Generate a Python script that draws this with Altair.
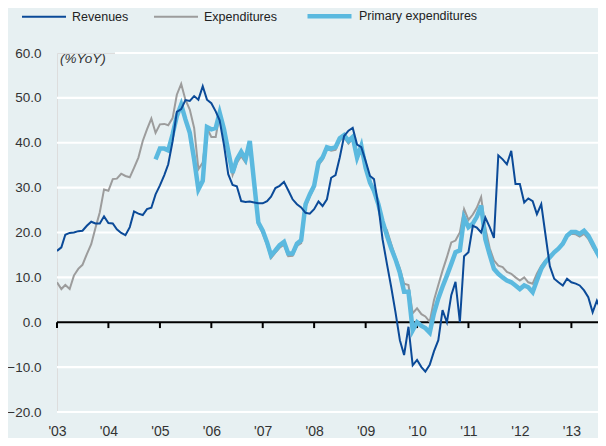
import altair as alt
import pandas as pd

# ---------------- data (monthly, % YoY) ----------------
first_month = "2003-01-01"
revenues = [
    15.9, 16.7, 19.5, 19.9, 20.0, 20.3, 20.4, 21.5, 22.4, 22.0, 22.0, 23.6,   # 2003
    22.1, 22.0, 20.7, 19.9, 19.4, 21.2, 24.7, 24.2, 23.9, 25.2, 25.5, 28.5,   # 2004
    30.5, 32.8, 35.2, 40.3, 46.9, 47.5, 49.5, 49.3, 50.4, 49.6, 52.6, 49.6,   # 2005
    48.8, 47.0, 45.0, 39.5, 33.0, 30.6, 30.3, 27.0, 26.8, 26.9, 26.7, 26.5,   # 2006
    26.5, 27.0, 28.0, 29.9, 30.4, 31.3, 29.4, 27.4, 26.3, 25.6, 24.4, 24.2,   # 2007
    25.2, 26.9, 25.9, 27.4, 32.2, 32.8, 36.7, 41.5, 42.7, 43.3, 39.6, 39.0,   # 2008
    35.9, 32.6, 31.9, 26.0, 18.5, 13.0, 7.9, 2.2, -4.0, -7.3, -1.0, -9.6,     # 2009
    -8.4, -10.0, -11.0, -9.5, -6.5, -4.0, 2.7, 0.0, 6.0, 9.0, 0.0, 14.7,      # 2010
    15.6, 21.5, 21.1, 20.0, 23.3, 21.2, 18.8, 37.2, 36.3, 35.2, 38.2, 30.8,   # 2011
    30.8, 26.7, 27.6, 27.0, 24.1, 26.3, 19.5, 12.5, 9.7, 8.9, 8.2, 9.7,       # 2012
    8.9, 8.6, 8.2, 7.1, 5.6, 2.2, 4.8, 2.6, 4.5,                              # 2013
]
expenditures = [
    8.9, 7.4, 8.3, 7.4, 10.4, 11.9, 12.8, 15.2, 17.4, 21.0, 24.5, 29.6,       # 2003
    29.3, 31.9, 32.0, 33.1, 32.6, 32.3, 34.4, 36.7, 40.4, 43.0, 45.4, 42.2,   # 2004
    44.1, 44.2, 43.9, 45.5, 50.7, 53.1, 49.6, 47.4, 43.3, 34.1, 35.6, 43.3,   # 2005
    41.3, 41.3, 46.3, 42.5, 37.5, 32.8, 35.5, 37.0, 35.6, 39.6, 30.5, 21.8,   # 2006
    19.8, 17.2, 14.3, 15.5, 16.6, 17.3, 14.7, 14.8, 17.0, 17.6, 25.6, 28.0,   # 2007
    30.0, 35.0, 36.2, 38.6, 38.2, 38.4, 40.5, 41.2, 39.8, 40.9, 36.2, 38.8,   # 2008
    34.0, 30.8, 29.0, 26.2, 22.0, 20.5, 17.5, 14.5, 12.0, 8.6, 8.3, 2.0,      # 2009
    3.1, 1.8, 1.3, 0.1, 4.9, 8.3, 11.5, 14.5, 17.8, 18.2, 20.0, 25.2,         # 2010
    22.8, 24.0, 25.5, 27.9, 21.0, 16.5, 13.8, 12.6, 12.3, 11.2, 10.8, 10.0,   # 2011
    9.3, 10.0, 8.9, 8.6, 10.8, 12.6, 13.8, 14.9, 15.6, 16.4, 17.8, 19.3,      # 2012
    19.7, 19.6, 19.1, 19.7, 18.6, 16.7, 15.2, 13.8, 12.6,                     # 2013
]
primary_first_month = "2004-12-01"
primary = [
    36.3,                                                                     # Dec 2004
    38.7, 38.7, 38.3, 41.9, 45.9, 48.5, 45.2, 42.2, 36.3, 29.6, 31.5, 43.5,   # 2005
    43.0, 43.3, 46.7, 43.0, 38.1, 33.3, 36.3, 38.0, 36.3, 40.4, 31.1, 22.2,   # 2006
    20.4, 17.8, 14.9, 16.0, 17.2, 17.9, 15.3, 15.3, 17.5, 18.3, 26.3, 28.5,   # 2007
    30.4, 35.6, 36.7, 39.0, 38.7, 39.0, 41.0, 41.7, 40.4, 41.3, 36.7, 39.3,   # 2008
    34.4, 31.1, 29.3, 26.3, 22.5, 19.3, 16.5, 14.0, 11.0, 6.8, 6.8, -1.8,     # 2009
    0.0, -0.8, -1.3, -2.3, 2.0, 5.3, 7.9, 10.4, 13.0, 15.6, 16.0, 23.3,       # 2010
    21.2, 22.0, 23.5, 26.0, 18.5, 15.0, 11.9, 10.8, 10.0, 9.3, 8.9, 8.2,      # 2011
    7.4, 8.2, 7.8, 6.7, 9.3, 11.9, 13.4, 14.5, 15.6, 16.4, 17.5, 19.3,        # 2012
    20.1, 20.1, 19.7, 20.4, 19.3, 17.5, 15.6, 13.8, 12.3,                     # 2013
]
series_names = ["Revenues", "Expenditures", "Primary expenditures"]
series_colors = ["#0b4a98", "#9c9c9c", "#5bb9df"]
series_widths = [2.0, 2.0, 4.5]
year_ticks = [f"{y}-01-01" for y in range(2003, 2014)]
grid_values = [-20, -10, 10, 20, 30, 40, 50]
top_grid_value = [60]
zero_value = [0]
unit_label = "(%YoY)"
visible_end = "2013-07-09"   # right edge of the visible plot area

# ---------------- tables ----------------
rev_dates = pd.date_range(first_month, periods=len(revenues), freq="MS")
exp_dates = pd.date_range(first_month, periods=len(expenditures), freq="MS")
pri_dates = pd.date_range(primary_first_month, periods=len(primary), freq="MS")
df = pd.concat([
    pd.DataFrame({"month": rev_dates, "value": revenues, "series": series_names[0]}),
    pd.DataFrame({"month": exp_dates, "value": expenditures, "series": series_names[1]}),
    pd.DataFrame({"month": pri_dates, "value": primary, "series": series_names[2]}),
])
ticks_df = pd.DataFrame({"month": pd.to_datetime(year_ticks)})
grid_df = pd.DataFrame({"v": grid_values})
top_df = pd.DataFrame({"v": top_grid_value})
zero_df = pd.DataFrame({"v": zero_value})

BG = "#e7f0f2"
FONT = "Liberation Sans"
W, H = 541, 359

x_scale = alt.Scale(domain=[first_month + "T00:00:00", visible_end + "T00:00:00"])
y_scale = alt.Scale(domain=[-20, 60], nice=False, zero=False)

x_enc = alt.X(
    "month:T", scale=x_scale, title=None,
    axis=alt.Axis(format="'%y", tickCount={"interval": "year", "step": 1},
                  domain=False, ticks=False, grid=False, labelPadding=12,
                  labelFlush=False, labelFontSize=14, labelColor="#333333",
                  labelFont=FONT),
)
y_axis = alt.Axis(values=[-20, -10, 0, 10, 20, 30, 40, 50, 60], format=".1f",
                  domain=False, ticks=False, grid=False, labelPadding=16,
                  labelFontSize=13.5, labelColor="#333333", labelFont=FONT)

grid = alt.Chart(grid_df).mark_rule(color="white", strokeWidth=2.2).encode(
    y=alt.Y("v:Q", scale=y_scale, axis=y_axis, title=None),
    x=alt.value(0), x2=alt.value(W),
)
top_grid = alt.Chart(top_df).mark_rule(color="white", strokeWidth=2.2).encode(
    y=alt.Y("v:Q", scale=y_scale), x=alt.value(58), x2=alt.value(W),
)
unit = alt.Chart(top_df).mark_text(
    text=unit_label, font=FONT, fontSize=13.5, fontStyle="italic",
    color="#333333", align="left", baseline="middle",
).encode(x=alt.value(3), y=alt.value(6))

color_enc = alt.Color(
    "series:N",
    scale=alt.Scale(domain=series_names, range=series_colors),
    legend=alt.Legend(
        title=None, orient="none", legendX=-36, legendY=-61.5,
        direction="horizontal", symbolType="stroke", symbolSize=1936,
        labelFontSize=12.5, labelFont=FONT, labelColor="#222222",
        labelOffset=5, columnPadding=21, padding=0,
    ),
)
width_enc = alt.StrokeWidth(
    "series:N",
    scale=alt.Scale(type="ordinal", domain=series_names, range=series_widths),
    legend=None,
)

def series_layer(name):
    return alt.Chart(df).transform_filter(alt.datum.series == name).mark_line(
        strokeJoin="miter", strokeCap="butt", clip=True
    ).encode(x=x_enc, y=alt.Y("value:Q", scale=y_scale), color=color_enc,
             strokeWidth=width_enc, order=alt.Order("month:T"))

zero_line = alt.Chart(zero_df).mark_rule(color="black", strokeWidth=2).encode(
    y=alt.Y("v:Q", scale=y_scale), x=alt.value(0), x2=alt.value(W),
)
zero_ticks = alt.Chart(ticks_df).mark_rule(color="black", strokeWidth=2).encode(
    x=alt.X("month:T", scale=x_scale),
    y=alt.datum(0), y2=alt.datum(-1.3),
)

chart = alt.layer(
    grid, top_grid, unit, zero_line, zero_ticks,
    series_layer(series_names[1]),
    series_layer(series_names[2]),
    series_layer(series_names[0]),
).resolve_scale(x="shared", y="shared").properties(
    width=W, height=H,
    padding={"left": 49, "top": 45, "right": 0, "bottom": 26},
    autosize=alt.AutoSizeParams(type="none"),
    background=BG,
).configure_view(stroke=None).configure(font=FONT)

chart.save("out.html", embed_options={"renderer": "svg", "actions": False})
